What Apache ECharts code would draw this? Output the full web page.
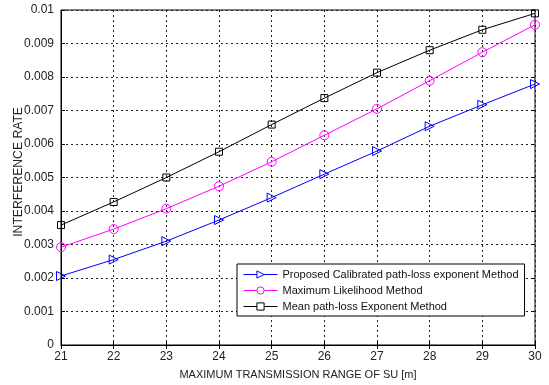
<!DOCTYPE html>
<html><head><meta charset="utf-8">
<script src="https://cdn.jsdelivr.net/npm/echarts@6/dist/echarts.min.js"></script>
<style>html,body{margin:0;padding:0;background:#fff}#c{width:549px;height:385px}</style>
</head><body><div id="c"></div>
<script>
const categories = [21,22,23,24,25,26,27,28,29,30];
const proposed = [0.00206,0.00255,0.00310,0.00373,0.00440,0.00510,0.00579,0.00653,0.00717,0.00779];
const maxLikelihood = [0.00292,0.00346,0.00407,0.00474,0.00547,0.00626,0.00705,0.00789,0.00874,0.00956];
const meanExponent = [0.00358,0.00427,0.00500,0.00577,0.00658,0.00737,0.00813,0.00880,0.00941,0.00990];
const seriesNames = ['Proposed Calibrated path-loss exponent Method','Maximum Likelihood Method','Mean path-loss Exponent Method'];
const seriesColors = ['#0000ff','#ff00ff','#000000'];
const xTitle = 'MAXIMUM TRANSMISSION RANGE OF SU [m]';
const yTitle = 'INTERFERENCE RATE';

const font = 'Liberation Sans, Arial, sans-serif';
const pair = a => a.map((v,i)=>[categories[i], v]);
const chart = echarts.init(document.getElementById('c'));
const mk = (name, data, color, symbol, size, rot) => ({
  name, type:'line', data: pair(data), symbol, symbolSize: size, symbolRotate: rot||0,
  lineStyle:{color, width:1}, itemStyle:{color:'rgba(255,255,255,0)', borderColor:color, borderWidth:1},
  emphasis:{disabled:true}, animation:false, z:3
});
chart.setOption({
  animation:false,
  grid:{left:61,right:14,top:10,bottom:36,show:true,borderColor:'#000',borderWidth:1,backgroundColor:'#fff'},
  legend:{
    orient:'vertical', left:237, top:264, width:289,
    backgroundColor:'#fff', borderColor:'#000', borderWidth:1, borderRadius:0,
    padding:[5,6,4,6], itemGap:5, itemWidth:34, itemHeight:9,
    textStyle:{fontFamily:font, fontSize:11, color:'#111'},
    lineStyle:{width:1},
    data: seriesNames.map((n,i)=>({name:n, itemStyle:{color:'#fff',borderColor:seriesColors[i],borderWidth:1}, lineStyle:{color:seriesColors[i],width:1}}))
  },
  graphic:[{
    type:'text', left:13, top:107, rotation:Math.PI/2,
    style:{text:yTitle, font:'12.2px '+font, fill:'#222'}, z:10
  }],
  xAxis:[{
    type:'value', min:21, max:30, interval:1,
    name:xTitle, nameLocation:'middle', nameGap:24,
    nameTextStyle:{fontFamily:font,fontSize:11,color:'#222'},
    axisLine:{lineStyle:{color:'#000'}}, axisTick:{inside:true,length:4,lineStyle:{color:'#000'}},
    axisLabel:{fontFamily:font,fontSize:12,color:'#222',margin:6},
    splitLine:{show:true,lineStyle:{color:'#222',type:[2,3],width:1}}
  },{
    type:'value', min:21, max:30, interval:1, position:'top',
    axisLine:{show:false}, axisTick:{inside:true,length:4,lineStyle:{color:'#000'}},
    axisLabel:{show:false}, splitLine:{show:false}
  }],
  yAxis:[{
    type:'value', min:0, max:0.01, interval:0.001,
    axisLine:{show:true,lineStyle:{color:'#000'}}, axisTick:{show:true,inside:true,length:4,lineStyle:{color:'#000'}},
    axisLabel:{fontFamily:font,fontSize:12,color:'#222',margin:7,formatter:v=>String(+v.toFixed(3))},
    splitLine:{show:true,lineStyle:{color:'#222',type:[2,3],width:1}}
  },{
    type:'value', min:0, max:0.01, interval:0.001, position:'right',
    axisLine:{show:false}, axisTick:{show:true,inside:true,length:4,lineStyle:{color:'#000'}},
    axisLabel:{show:false}, splitLine:{show:false}
  }],
  series:[
    mk(seriesNames[0], proposed, seriesColors[0], 'triangle', 9, -90),
    mk(seriesNames[1], maxLikelihood, seriesColors[1], 'circle', 9),
    mk(seriesNames[2], meanExponent, seriesColors[2], 'rect', 7)
  ]
});
</script></body></html>
